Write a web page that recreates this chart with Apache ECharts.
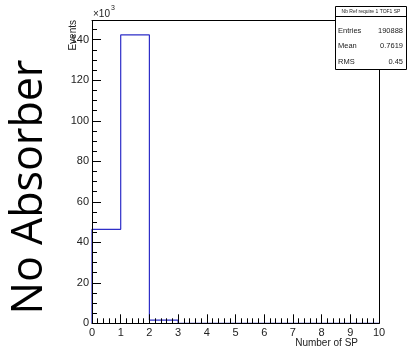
<!DOCTYPE html>
<html>
<head>
<meta charset="utf-8">
<script src="https://cdn.jsdelivr.net/npm/echarts@6/dist/echarts.min.js"></script>
<style>
html,body{margin:0;padding:0;background:#fff;}
#c{width:408px;height:352px;}
</style>
</head>
<body>
<div id="c"></div>
<script>
// Histogram data (counts in units of 10^3)
var binEdges = [0, 1, 2, 3, 4, 5, 6, 7, 8, 9, 10];
var binCounts = [46.4, 142.4, 1.6, 0, 0, 0, 0, 0, 0, 0];
var xTickLabels = ['0','1','2','3','4','5','6','7','8','9','10'];
var yTickLabels = ['0','20','40','60','80','100','120','140'];
var statsTitle = 'Nb Ref require 1 TOF1 SP';
var statsNames = ['Entries', 'Mean', 'RMS'];
var statsValues = ['190888', '0.7619', '0.45'];
var sideLabel = 'No Absorber';
var xTitle = 'Number of SP';
var yTitle = 'Events';

// Build step outline from bins
var outline = [[binEdges[0], 0]];
for (var i = 0; i < binCounts.length; i++) {
  outline.push([binEdges[i], binCounts[i]]);
}
outline.push([binEdges[binEdges.length - 1], 0]);

var chart = echarts.init(document.getElementById('c'), null, {renderer: 'canvas'});
var F = 'Liberation Sans, Arial, sans-serif';
var gridL = 92, gridR = 29, gridT = 20.5, gridB = 28.7;

var statRows = [];
for (var k = 0; k < statsNames.length; k++) {
  statRows.push({type: 'text', left: 338, top: 26.5 + k * 15.5, z: 101,
    style: {text: statsNames[k], font: '7.5px ' + F, fill: '#222'}});
  statRows.push({type: 'text', right: 5, top: 26.5 + k * 15.5, z: 101,
    style: {text: statsValues[k], font: '7.5px ' + F, fill: '#222', textAlign: 'right'}});
}

chart.setOption({
  animation: false,
  backgroundColor: '#fff',
  grid: {left: gridL, right: gridR, top: gridT, bottom: gridB},
  xAxis: [{
    type: 'value', min: 0, max: 10, interval: 1, z: 5,
    axisLine: {show: true, lineStyle: {color: '#000', width: 1}},
    axisTick: {show: true, inside: true, length: 9, lineStyle: {color: '#000'}},
    minorTick: {show: true, splitNumber: 5, length: 5, lineStyle: {color: '#000'}},
    splitLine: {show: false},
    axisLabel: {margin: 4, fontFamily: F, fontSize: 11, color: '#222',
      formatter: function (v) { return xTickLabels[Math.round(v)] || ''; }}
  }, {
    type: 'value', min: 0, max: 10, position: 'top', z: 5,
    axisLine: {show: true, onZero: false, lineStyle: {color: '#000', width: 1}},
    axisTick: {show: false}, axisLabel: {show: false}, splitLine: {show: false}
  }],
  yAxis: [{
    type: 'value', min: 0, max: 149.5, interval: 20, z: 5,
    axisLine: {show: true, lineStyle: {color: '#000', width: 1}},
    axisTick: {show: true, inside: true, length: 9, lineStyle: {color: '#000'}},
    splitLine: {show: false},
    axisLabel: {margin: 3, fontFamily: F, fontSize: 11, color: '#222', showMaxLabel: false,
      formatter: function (v) { var idx = v / 20; return (Math.abs(idx - Math.round(idx)) < 1e-6) ? (yTickLabels[Math.round(idx)] || '') : ''; }}
  }, {
    type: 'value', min: 0, max: 149.5, interval: 5, position: 'left', z: 4,
    axisLine: {show: false},
    axisTick: {show: true, inside: true, length: 5, lineStyle: {color: '#000'}},
    axisLabel: {show: false}, splitLine: {show: false}
  }, {
    type: 'value', min: 0, max: 149.5, position: 'right', z: 5,
    axisLine: {show: true, onZero: false, lineStyle: {color: '#000', width: 1}},
    axisTick: {show: false}, axisLabel: {show: false}, splitLine: {show: false}
  }],
  series: [{
    type: 'line', step: 'end', data: outline, showSymbol: false, symbol: 'none',
    xAxisIndex: 0, yAxisIndex: 0, z: 2,
    lineStyle: {color: '#2e2ec8', width: 1.2}
  }],
  graphic: [
    {type: 'text', left: 93, top: 9, style: {text: '×10', font: '10px ' + F, fill: '#222'}},
    {type: 'text', left: 111, top: 5, style: {text: '3', font: '7px ' + F, fill: '#222'}},
    {type: 'text', x: 73, y: 20, rotation: Math.PI / 2,
      style: {text: yTitle, font: '10px ' + F, fill: '#222', textAlign: 'right', textVerticalAlign: 'middle'}},
    {type: 'text', x: 358, y: 343,
      style: {text: xTitle, font: '10px ' + F, fill: '#222', textAlign: 'right', textVerticalAlign: 'middle'}},
    {type: 'text', x: 30, y: 187, rotation: Math.PI / 2,
      style: {text: sideLabel, font: '43px "Open Sans", sans-serif', fill: '#000', textAlign: 'center', textVerticalAlign: 'middle'}},
    {type: 'rect', shape: {x: 335.5, y: 6.5, width: 71, height: 63}, z: 100,
      style: {fill: '#fff', stroke: '#000', lineWidth: 1}},
    {type: 'line', shape: {x1: 335.5, y1: 16.5, x2: 406.5, y2: 16.5}, z: 101,
      style: {stroke: '#000', lineWidth: 1}},
    {type: 'text', x: 371, y: 11.5, z: 101,
      style: {text: statsTitle, font: '5px ' + F, fill: '#222', textAlign: 'center', textVerticalAlign: 'middle'}}
  ].concat(statRows)
});
</script>
</body>
</html>
